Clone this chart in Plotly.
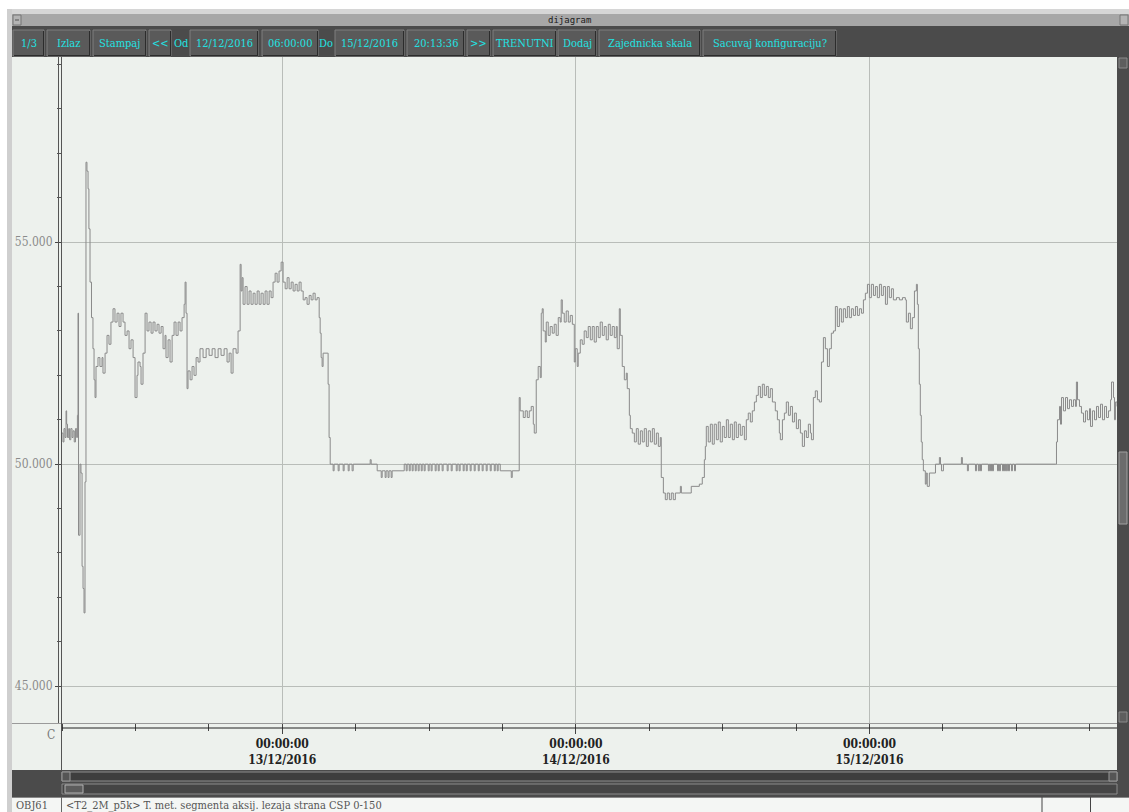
import pandas as pd
import plotly.graph_objects as go

# ---------------- data (hours after 12/12/2016 06:00:00, temperature in C) ----------------
startup = [
    (0.00, 50.7), (0.08, 50.5), (0.16, 50.8), (0.25, 50.6), (0.33, 51.2), (0.38, 50.9), (0.45, 50.6),
    (0.55, 50.8), (0.62, 50.55), (0.72, 50.8), (0.82, 50.6), (0.90, 50.75), (1.00, 50.5), (1.10, 50.8),
    (1.20, 50.6), (1.26, 51.1), (1.31, 53.4), (1.35, 48.4), (1.47, 50.0), (1.55, 49.8), (1.64, 47.7),
    (1.72, 47.2), (1.80, 46.65), (1.88, 49.6), (1.96, 56.8), (2.04, 56.6), (2.13, 56.2), (2.20, 55.3),
    (2.29, 54.1), (2.41, 53.3), (2.53, 52.6), (2.62, 51.9), (2.70, 51.5),
]
day1_high = [
    (2.78, 52.2), (2.94, 52.4), (3.10, 52.2), (3.27, 52.4), (3.35, 52.05), (3.52, 52.5), (3.68, 52.9),
    (3.84, 52.7), (4.00, 53.2), (4.17, 53.5), (4.33, 53.2), (4.50, 53.4), (4.66, 53.1), (4.82, 53.4),
    (4.99, 53.2), (5.15, 52.9), (5.32, 53.0), (5.48, 52.6), (5.64, 52.8), (5.81, 52.4), (5.97, 51.5),
    (6.13, 52.0), (6.21, 52.3), (6.38, 52.2), (6.46, 51.8), (6.62, 52.5), (6.79, 53.4), (6.95, 53.0),
    (7.11, 53.2), (7.28, 52.95), (7.44, 53.2), (7.60, 53.0), (7.77, 53.15), (7.93, 52.95), (8.10, 53.1),
    (8.26, 52.6), (8.42, 52.9), (8.50, 52.4), (8.67, 52.8), (8.83, 52.3), (9.00, 52.9), (9.16, 53.2),
    (9.32, 52.9), (9.49, 53.2), (9.65, 53.0), (9.81, 53.3), (9.98, 53.6), (10.06, 54.1), (10.14, 53.4),
    (10.22, 51.7), (10.30, 52.1), (10.47, 51.9), (10.63, 52.2), (10.79, 52.0), (10.96, 52.4),
    (11.12, 52.3), (11.28, 52.6), (11.53, 52.4), (11.78, 52.6), (12.02, 52.45), (12.27, 52.6),
    (12.51, 52.4), (12.76, 52.6), (13.00, 52.45), (13.25, 52.6), (13.49, 52.3), (13.66, 52.5),
    (13.82, 52.05), (13.98, 52.6), (14.23, 52.5), (14.39, 53.0), (14.56, 54.5), (14.64, 53.9),
    (14.72, 54.2), (14.80, 53.6), (14.96, 54.0), (15.13, 53.6), (15.29, 53.9), (15.45, 53.6),
    (15.62, 53.85), (15.78, 53.6), (15.95, 53.9), (16.11, 53.6), (16.27, 53.85), (16.44, 53.6),
    (16.60, 53.9), (16.76, 53.6), (16.93, 53.9), (17.09, 53.75), (17.25, 54.1), (17.42, 54.3),
    (17.58, 54.1), (17.74, 54.35), (17.91, 54.55), (18.07, 54.1), (18.24, 53.95), (18.40, 54.2),
    (18.56, 53.95), (18.73, 54.1), (18.89, 53.9), (19.05, 54.05), (19.22, 53.9), (19.38, 54.1),
    (19.54, 53.9), (19.71, 53.7), (19.87, 53.75), (20.03, 53.6), (20.20, 53.8), (20.36, 53.7),
    (20.52, 53.85), (20.69, 53.7), (20.85, 53.75), (21.02, 53.3), (21.10, 52.95), (21.18, 52.4),
    (21.26, 52.2), (21.34, 52.5), (21.67, 52.5), (21.75, 51.8), (21.83, 50.6), (21.92, 50.0),
]
night1_flat = [
    (22.16, 49.85), (22.24, 50.0), (22.57, 49.85), (22.65, 50.0), (22.98, 49.85), (23.06, 50.0),
    (23.39, 49.85), (23.47, 50.0), (23.71, 49.85), (23.80, 50.0), (25.19, 50.1), (25.27, 50.0),
    (25.76, 49.85), (26.09, 49.7), (26.17, 49.85), (26.41, 49.7), (26.49, 49.85), (26.65, 49.7),
    (26.73, 49.85), (26.90, 49.7), (26.98, 49.85), (27.97, 50.0),
    (28.13, 49.85), (28.21, 50.0), (28.38, 49.85), (28.46, 50.0), (28.62, 49.85), (28.70, 50.0),
    (28.87, 49.85), (28.95, 50.0), (29.11, 49.85), (29.19, 50.0), (29.36, 49.85), (29.44, 50.0),
    (29.60, 49.85), (29.68, 50.0), (29.93, 49.85), (30.01, 50.0), (30.17, 49.85), (30.25, 50.0),
    (30.50, 49.85), (30.58, 50.0), (30.75, 49.85), (30.83, 50.0), (31.07, 49.85), (31.15, 50.0),
    (31.48, 49.85), (31.56, 50.0), (31.81, 49.85), (31.89, 50.0), (32.22, 49.85), (32.30, 50.0),
    (32.46, 49.85), (32.54, 50.0), (32.79, 49.85), (32.87, 50.0), (33.04, 49.85), (33.12, 50.0),
    (33.36, 49.85), (33.44, 50.0), (33.69, 49.85), (33.77, 50.0), (34.02, 49.85), (34.10, 50.0),
    (34.34, 49.85), (34.42, 50.0), (34.67, 49.85), (34.75, 50.0), (35.00, 49.85), (35.08, 50.0),
    (35.33, 49.85), (35.41, 50.0), (35.57, 49.85), (35.65, 50.0), (35.82, 49.85), (36.72, 49.7),
    (36.80, 49.85), (37.37, 51.5),
]
day2_high = [
    (37.45, 51.2), (37.70, 51.05), (37.86, 51.2), (38.03, 51.05), (38.19, 51.2), (38.35, 51.3),
    (38.52, 50.9), (38.60, 50.7), (38.76, 51.9), (38.92, 52.2), (39.09, 51.95), (39.17, 53.4),
    (39.25, 53.5), (39.33, 53.0), (39.50, 52.75), (39.58, 53.2), (39.74, 52.9), (39.90, 53.1),
    (40.07, 52.95), (40.23, 53.15), (40.39, 52.9), (40.56, 53.3), (40.72, 53.2), (40.80, 53.7),
    (40.89, 53.4), (41.05, 53.2), (41.21, 53.45), (41.38, 53.2), (41.54, 53.35), (41.71, 53.15),
    (41.87, 52.3), (41.95, 52.6), (42.11, 52.2), (42.19, 52.5), (42.36, 52.8), (42.52, 52.7),
    (42.68, 53.0), (42.85, 52.85), (43.01, 53.1), (43.18, 52.8), (43.34, 53.1), (43.50, 52.75),
    (43.67, 53.1), (43.83, 52.85), (43.99, 53.2), (44.16, 52.9), (44.32, 53.1), (44.48, 52.8),
    (44.65, 53.15), (44.81, 52.9), (44.97, 53.1), (45.14, 52.85), (45.30, 53.1), (45.38, 52.6),
    (45.55, 53.5), (45.63, 52.9), (45.79, 52.2), (45.96, 51.9), (46.12, 52.05), (46.20, 51.7),
    (46.37, 51.1), (46.45, 50.8), (46.61, 50.7), (46.78, 50.5), (46.94, 50.8), (47.10, 50.45),
    (47.27, 50.75), (47.43, 50.5), (47.59, 50.8), (47.76, 50.4), (47.92, 50.75), (48.09, 50.5),
    (48.25, 50.8), (48.41, 50.45), (48.58, 50.7), (48.74, 50.4), (48.90, 50.6),
]
day2_low = [
    (48.98, 49.7), (49.15, 49.35), (49.31, 49.2), (49.47, 49.35), (49.64, 49.2), (49.80, 49.35),
    (49.96, 49.2), (50.13, 49.35), (50.54, 49.5), (50.62, 49.35), (51.43, 49.5), (52.09, 49.55),
    (52.33, 49.7), (52.50, 50.1),
]
day3_high = [
    (52.58, 50.4), (52.66, 50.85), (52.82, 50.5), (52.99, 50.9), (53.15, 50.45), (53.31, 50.9),
    (53.48, 50.55), (53.64, 50.95), (53.80, 50.5), (53.97, 50.85), (54.13, 50.6), (54.30, 51.0),
    (54.46, 50.6), (54.62, 50.9), (54.79, 50.55), (54.95, 50.95), (55.11, 50.6), (55.28, 50.9),
    (55.44, 50.65), (55.60, 50.85), (55.77, 50.55), (55.93, 51.0), (56.09, 51.15), (56.26, 50.95),
    (56.42, 51.2), (56.59, 51.4), (56.75, 51.55), (56.91, 51.75), (57.08, 51.5), (57.24, 51.8),
    (57.40, 51.55), (57.57, 51.75), (57.73, 51.5), (57.89, 51.7), (58.06, 51.4), (58.30, 51.2),
    (58.47, 51.0), (58.63, 50.7), (58.71, 50.55), (58.88, 51.0), (59.04, 51.15), (59.20, 51.4),
    (59.37, 51.1), (59.53, 51.3), (59.70, 50.95), (59.86, 51.15), (60.02, 50.8), (60.19, 51.0),
    (60.35, 50.7), (60.51, 50.4), (60.68, 50.75), (60.84, 50.6), (61.00, 50.9), (61.17, 50.7),
    (61.25, 50.55), (61.41, 51.5), (61.57, 51.65), (61.74, 51.45), (61.90, 51.4), (62.07, 52.3),
    (62.23, 52.85), (62.39, 52.6), (62.56, 52.2), (62.72, 52.6), (62.88, 52.95), (63.05, 53.0),
    (63.21, 53.55), (63.37, 53.1), (63.54, 53.5), (63.70, 53.2), (63.86, 53.5), (64.03, 53.3),
    (64.19, 53.55), (64.35, 53.3), (64.52, 53.5), (64.68, 53.35), (64.85, 53.55), (65.01, 53.35),
    (65.17, 53.5), (65.34, 53.4), (65.50, 53.7), (65.66, 53.85), (65.83, 54.05), (65.99, 53.75),
    (66.15, 54.05), (66.32, 53.8), (66.48, 54.0), (66.64, 53.75), (66.81, 54.05), (66.97, 53.8),
    (67.13, 54.0), (67.30, 53.6), (67.46, 54.0), (67.62, 53.75), (67.79, 53.95), (67.95, 53.7),
    (68.20, 53.75), (68.44, 53.7), (68.69, 53.75), (68.93, 53.7), (69.01, 53.2), (69.18, 53.4),
    (69.34, 53.05), (69.50, 53.3), (69.67, 53.9), (69.83, 54.05), (69.91, 53.6), (69.99, 52.6),
    (70.07, 51.8), (70.15, 51.1), (70.23, 50.5), (70.31, 50.1),
]
night3_flat = [
    (70.40, 49.85), (70.56, 49.55), (70.64, 49.8), (70.72, 49.5), (70.89, 49.8), (71.39, 50.0),
    (71.71, 50.15), (71.80, 50.0), (71.88, 49.85), (72.04, 50.0), (73.51, 50.15), (73.59, 50.0),
    (74.00, 49.85), (74.08, 50.0), (74.66, 49.85), (74.74, 50.0), (74.90, 49.85), (74.98, 50.0),
    (75.07, 49.85), (75.15, 50.0), (75.72, 49.85), (75.80, 50.0), (75.89, 49.85), (75.97, 50.0),
    (76.05, 49.85), (76.13, 50.0), (76.46, 49.85), (76.54, 50.0), (76.62, 49.85), (76.70, 50.0),
    (76.87, 49.85), (76.95, 50.0), (77.03, 49.85), (77.11, 50.0), (77.19, 49.85), (77.27, 50.0),
    (77.36, 49.85), (77.44, 50.0), (77.60, 49.85), (77.68, 50.0), (77.85, 49.85), (77.93, 50.0),
    (81.20, 50.0),
]
day4_rise = [
    (81.28, 50.5), (81.36, 51.0), (81.53, 51.3), (81.61, 50.9), (81.69, 51.5), (81.85, 51.2),
    (82.02, 51.5), (82.18, 51.25), (82.34, 51.45), (82.51, 51.3), (82.67, 51.45), (82.83, 51.3),
    (82.91, 51.85), (83.00, 51.45), (83.16, 51.3), (83.32, 51.15), (83.49, 50.95), (83.65, 51.2),
    (83.81, 51.0), (83.98, 51.25), (84.06, 50.85), (84.22, 51.2), (84.39, 51.0), (84.55, 51.3),
    (84.71, 51.05), (84.88, 51.35), (85.04, 51.0), (85.21, 51.3), (85.37, 51.05), (85.53, 51.2),
    (85.70, 51.45), (85.78, 51.85), (85.94, 51.5), (86.02, 51.0), (86.10, 51.4), (86.23, 51.3),
]

range_start = "2016-12-12 06:00:00"
range_end = "2016-12-15 20:13:36"
day_ticks = ["2016-12-13", "2016-12-14", "2016-12-15"]
day_tick_text = ["00:00:00<br>13/12/2016", "00:00:00<br>14/12/2016", "00:00:00<br>15/12/2016"]
y_tick_values = [45, 50, 55]

toolbar_items = ["1/3", "Izlaz", "Stampaj", "&lt;&lt;", "Od", "12/12/2016", "06:00:00", "Do",
                 "15/12/2016", "20:13:36", "&gt;&gt;", "TRENUTNI", "Dodaj", "Zajednicka skala",
                 "Sacuvaj konfiguraciju?"]
window_title = "dijagram"
unit_label = "C"
object_id = "OBJ61"
signal_description = "&lt;T2_2M_p5k&gt; T. met. segmenta aksij. lezaja strana CSP 0-150"

# ---------------- build series ----------------
segments = [startup, day1_high, night1_flat, day2_high, day2_low, day3_high, night3_flat, day4_rise]
pairs = [p for seg in segments for p in seg]
t0 = pd.Timestamp(range_start)
times = [t0 + pd.Timedelta(hours=h) for h, _ in pairs]
vals = [v for _, v in pairs]

# ---------------- layout helpers (pixel -> paper) ----------------
FW, FH = 1129, 812
L, T, R, B = 62, 57, 1117, 723
W, H = R - L, B - T


def fx(x):
    return (x - L) / W


def fy(y):
    return (B - y) / H


shapes = []
annotations = []
COND = "DejaVu Serif Condensed, Liberation Serif"


def rect(x0, y0, x1, y1, fill, line=None, lw=1, layer="above"):
    shapes.append(dict(type="rect", xref="paper", yref="paper",
                       x0=fx(x0), x1=fx(x1), y0=fy(y1), y1=fy(y0),
                       fillcolor=fill, layer=layer,
                       line=dict(color=line if line else fill, width=lw if line else 0)))


def seg(x0, y0, x1, y1, color, lw=1, layer="above"):
    shapes.append(dict(type="line", xref="paper", yref="paper",
                       x0=fx(x0), x1=fx(x1), y0=fy(y0), y1=fy(y1), layer=layer,
                       line=dict(color=color, width=lw)))


def text(x, y, s, size=11, color="#22e2e2", xanchor="center", family=COND):
    annotations.append(dict(xref="paper", yref="paper", x=fx(x), y=fy(y), text=s,
                            showarrow=False, xanchor=xanchor, yanchor="middle",
                            font=dict(family=family, size=size, color=color)))


PANEL = "#edf1ed"
DARK = "#4b4b4b"

# outer frame
rect(0, 0, FW, 9, "#ffffff")
rect(7, 9, FW, 14, "#d6d6d6", layer="below")
rect(7, 9, 12, FH, "#cfcfcf", layer="below")
# title bar
rect(12, 14, FW, 26, "#a7a7a7")
rect(13, 15, 21, 25, "#b4b4b4", line="#777777")
seg(15, 20, 19, 20, "#555555")
rect(1120, 15, 1128, 25, "#b4b4b4", line="#777777")
text(569, 20.5, window_title, size=9, color="#1a1a1a", family="DejaVu Sans Mono")
# toolbar
rect(12, 26, FW, 57, DARK)
button_spans = [(13, 44), (47, 90), (93, 146), (149, 171), None, (190, 258), (262, 318), None,
                (335, 404), (407, 464), (467, 490), (493, 556), (558, 596), (599, 700), (703, 836)]
label_centres = {4: 181.5, 7: 326}
for i, item in enumerate(toolbar_items):
    span = button_spans[i]
    if span is None:
        text(label_centres[i], 43.5, item)
        continue
    x0, x1 = span
    rect(x0, 30, x1, 56, "#5a5a5a", line="#7e7e7e")
    seg(x0 + 1, 55.5, x1, 55.5, "#2c2c2c")
    seg(x1 - 0.5, 31, x1 - 0.5, 56, "#2c2c2c")
    text((x0 + x1) / 2, 43.5, item)

# left axis panel and bottom x-axis panel
rect(12, 57, L, 770, PANEL, layer="below")
rect(L, B, R, 770, PANEL, layer="below")
seg(12, 723.5, R, 723.5, "#9a9a9a")
seg(L, 728, R, 728, "#222222")
seg(58.5, 57, 58.5, 723, "#555555")
seg(61.5, 57, 61.5, 770, "#555555")
text(57, 735, unit_label, size=12, color="#7a7a7a", xanchor="right")

# right scrollbar
rect(R, 57, FW, 797, DARK)
rect(1119, 58, 1127, 68, "#5e5e5e", line="#8a8a8a")
rect(1119, 452, 1127, 524, "#6c6c6c", line="#a0a0a0")
rect(1119, 712, 1127, 722, "#5e5e5e", line="#8a8a8a")

# horizontal scrollbars
rect(12, 770, R, 797, DARK)
rect(62, 772, R, 781, "#3e3e3e", line="#8c8c8c")
rect(62, 772, 70, 781, "#555555", line="#9a9a9a")
rect(1109, 772, R, 781, "#555555", line="#9a9a9a")
rect(62, 784, R, 794, "#454545", line="#8c8c8c")
rect(65, 785, 83, 793, "#5c5c5c", line="#b0b0b0")

# status row
rect(12, 797, FW, FH, "#f4f6f4")
seg(12, 797.5, FW, 797.5, "#888888")
seg(61.5, 797, 61.5, FH, "#666666")
seg(1042, 797, 1042, FH, "#444444")
seg(1090.5, 797, 1090.5, FH, "#444444")
text(14, 805, object_id, size=11, color="#555555", xanchor="left")
text(64, 805, signal_description, size=11, color="#555555", xanchor="left")

# ---------------- figure ----------------
fig = go.Figure()
fig.add_trace(go.Scatter(x=times, y=vals, mode="lines", line_shape="hv",
                         line=dict(color="#8a8a8a", width=1), hoverinfo="skip", showlegend=False))

fig.update_layout(
    width=FW, height=FH, autosize=False,
    margin=dict(l=L, r=FW - R, t=T, b=FH - B, pad=0),
    paper_bgcolor="#ffffff", plot_bgcolor=PANEL,
    font=dict(family=COND, size=12),
    shapes=shapes, annotations=annotations, showlegend=False,
    xaxis=dict(
        type="date", range=[range_start, range_end], automargin=False,
        tickmode="array", tickvals=day_ticks, ticktext=day_tick_text,
        ticks="outside", ticklen=10, tickcolor="#444444", tickwidth=1,
        tickfont=dict(family=COND, size=12, color="#222222", weight="bold"),
        showgrid=True, gridcolor="#b9bdb9", gridwidth=1,
        showline=False, zeroline=False,
        minor=dict(tickmode="linear", dtick=6 * 3600 * 1000, tick0="2016-12-12 00:00:00",
                   ticks="outside", ticklen=7, tickcolor="#444444", showgrid=False),
    ),
    yaxis=dict(
        range=[44.17, 59.17], automargin=False,
        tickmode="array", tickvals=y_tick_values, tickformat=".3f",
        ticks="outside", ticklen=6, tickcolor="#444444",
        tickfont=dict(family=COND, size=12, color="#8a8a8a"),
        showgrid=True, gridcolor="#b9bdb9", gridwidth=1,
        showline=False, zeroline=False,
        minor=dict(tickmode="linear", dtick=1, tick0=45, ticks="outside", ticklen=4,
                   tickcolor="#555555", showgrid=False),
    ),
)

fig.write_html("out.html")
